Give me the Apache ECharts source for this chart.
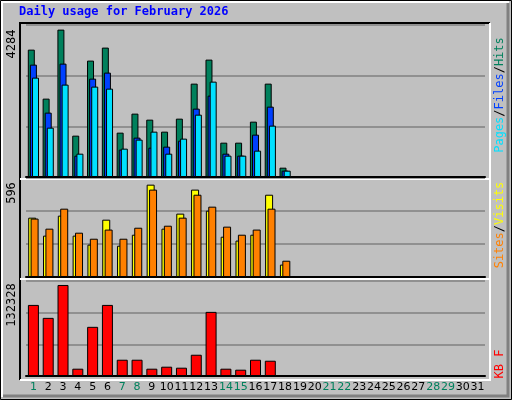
<!DOCTYPE html>
<html>
<head>
<meta charset="utf-8">
<script src="https://cdn.jsdelivr.net/npm/echarts@6/dist/echarts.min.js"></script>
<style>
html, body { margin: 0; padding: 0; background: #c0c0c0; }
#chart { width: 512px; height: 400px; }
</style>
</head>
<body>
<div id="chart"></div>
<script>
const days = Array.from({ length: 31 }, (_, i) => String(i + 1));
const weekendDays = ['1', '7', '8', '14', '15', '21', '22', '28', '29'];

const hits = [3702, 2278, 4284, 1202, 3383, 3761, 1289, 1842, 1667, 1318, 1696, 2714, 3412, 998, 998, 1609, 2714, 271];
const files = [3266, 1871, 3295, 620, 2859, 3034, 795, 1144, 853, 882, 1056, 1987, 2365, 678, 620, 1231, 2045, 184];
const pages = [2888, 1434, 2685, 678, 2627, 2568, 824, 1086, 1318, 678, 1115, 1812, 2772, 620, 620, 766, 1493, 184];

const visits = [383, 267, 396, 267, 209, 370, 202, 273, 596, 312, 409, 564, 428, 260, 235, 273, 531, 80];
const sites = [377, 312, 441, 286, 247, 306, 247, 318, 564, 331, 383, 531, 454, 325, 273, 306, 441, 105];

const kbytes = [103349, 84517, 132328, 10625, 71478, 103349, 23665, 23665, 10625, 13523, 12074, 30909, 93209, 10625, 9176, 23665, 22216, 400];

const font = 'DejaVu Sans Mono';
const chart = echarts.init(document.getElementById('chart'));

function bar(data, color, x, y, width) {
    return {
        type: 'bar', data: data, xAxisIndex: x, yAxisIndex: y,
        barWidth: width, barGap: '-70%',
        itemStyle: { color: color, borderColor: '#000', borderWidth: 1 },
        animation: false
    };
}

// rotated label, reads bottom to top
function vtext(x, y, text, fill, rich) {
    return {
        type: 'group', x: x, y: y, rotation: Math.PI / 2,
        children: [{
            type: 'text',
            style: { text: text, fill: fill, font: '12px ' + font, align: 'center', verticalAlign: 'middle', rich: rich }
        }]
    };
}

const grids = [
    { left: 26, width: 459, top: 25, height: 152 },
    { left: 26, width: 459, top: 178, height: 99 },
    { left: 26, width: 459, top: 281, height: 95 }
];

const yMax = [4418, 639, 138120];

chart.setOption({
    backgroundColor: '#c0c0c0',
    grid: grids.map(g => Object.assign({ show: true, backgroundColor: '#c0c0c0', borderColor: '#000', borderWidth: 0 }, g)),
    xAxis: [0, 1, 2].map(i => ({
        type: 'category', data: days, gridIndex: i,
        axisTick: { show: false },
        axisLine: { show: true, lineStyle: { color: '#000', width: 2 } },
        axisLabel: {
            show: i === 2, interval: 0, fontFamily: 'DejaVu Sans', fontSize: 11, margin: 6,
            color: v => weekendDays.includes(v) ? '#00805c' : '#000'
        }
    })),
    yAxis: [0, 1, 2].map(i => ({
        type: 'value', gridIndex: i, min: 0, max: yMax[i], interval: yMax[i] / 3,
        axisLabel: { show: false },
        axisLine: { show: false },
        splitLine: { lineStyle: { color: '#808080', width: 1.5 } }
    })),
    series: [
        bar(hits, '#00805c', 0, 0, 7),
        bar(files, '#0040ff', 0, 0, 7),
        bar(pages, '#00e0ff', 0, 0, 7),
        bar(visits, '#ffff00', 1, 1, 8),
        bar(sites, '#ff8000', 1, 1, 8),
        bar(kbytes, '#ff0000', 2, 2, 11)
    ],
    graphic: [
        { type: 'rect', shape: { x: 0.5, y: 0.5, width: 511, height: 399 }, style: { fill: 'none', stroke: '#000' } },
        { type: 'polyline', shape: { points: [[2, 397], [2, 2], [509, 2]] }, style: { stroke: '#fff', lineWidth: 2, fill: 'none' } },
        { type: 'polyline', shape: { points: [[3, 396], [508, 396], [508, 3]] }, style: { stroke: '#808080', lineWidth: 3, fill: 'none' } },
        { type: 'polyline', shape: { points: [[20, 380], [20, 23], [490, 23]] }, style: { stroke: '#000', lineWidth: 2, fill: 'none' } },
        { type: 'polyline', shape: { points: [[20, 380], [490, 380], [490, 23]] }, style: { stroke: '#fff', lineWidth: 2, fill: 'none' } },
        { type: 'line', shape: { x1: 20, y1: 179, x2: 490, y2: 179 }, style: { stroke: '#fff', lineWidth: 2 } },
        { type: 'line', shape: { x1: 20, y1: 279, x2: 490, y2: 279 }, style: { stroke: '#fff', lineWidth: 2 } },
        { type: 'text', left: 19, top: 6, style: { text: 'Daily usage for February 2026', fill: '#0000ff', font: 'bold 12px ' + font } },
        vtext(12, 44, '4284', '#000'),
        vtext(12, 193, '596', '#000'),
        vtext(12, 305, '132328', '#000'),
        vtext(500, 95, '{p|Pages}{s|/}{f|Files}{s|/}{h|Hits}', '#000',
            { p: { fill: '#00e0ff' }, f: { fill: '#0040ff' }, h: { fill: '#00805c' }, s: { fill: '#000' } }),
        vtext(500, 225, '{a|Sites}{s|/}{b|Visits}', '#000',
            { a: { fill: '#ff8000' }, b: { fill: '#ffff00' }, s: { fill: '#000' } }),
        vtext(500, 364, 'KB F', '#ff0000')
    ]
});

window.addEventListener('resize', () => chart.resize());
</script>
</body>
</html>
